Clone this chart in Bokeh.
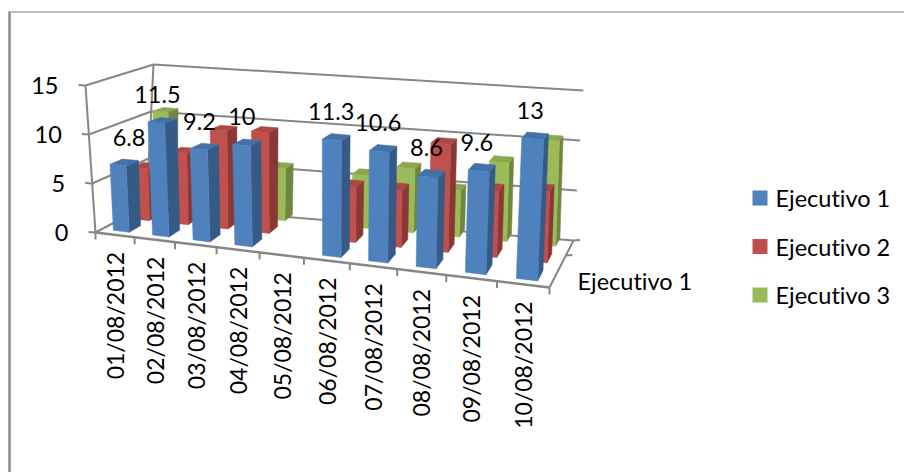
from bokeh.plotting import figure
from bokeh.models import Range1d
from bokeh.core.properties import value
from bokeh.embed import file_html
from bokeh.resources import INLINE
import math

dates = ["01/08/2012", "02/08/2012", "03/08/2012", "04/08/2012", "05/08/2012",
         "06/08/2012", "07/08/2012", "08/08/2012", "09/08/2012", "10/08/2012"]
nan = float("nan")
ejecutivo_1 = [6.8, 11.5, 9.2, 10, nan, 11.3, 10.6, 8.6, 9.6, 13]
ejecutivo_2 = [5.5, 7.5, 10.2, 10.4, nan, 5.6, 5.7, 10.7, 6.5, 6.9]
ejecutivo_3 = [10.7, nan, nan, 5.6, nan, 5.6, 6.7, 4.8, 8.1, 10.7]
value_ticks = [0, 5, 10, 15]
series_names = ["Ejecutivo 1", "Ejecutivo 2", "Ejecutivo 3"]

FONT = value("Lato")
FS = "23.5px"
GREY = "#868686"

# Screen position of the eight corners of the plot box (front/back, left/right, floor/top).
WALL = dict(fl=(95, 232), fr=(549, 287), bl=(146, 205), br=(573, 240),
            flt=(85, 85), frt=(560, 120), blt=(153, 64), brt=(583, 90))
BARS = dict(fl=(95, 232), fr=(550, 288), bl=(160, 197), br=(578, 231),
            flt=(86, 85), frt=(558, 122), blt=(163, 65), brt=(582, 91))
PERSPECTIVE = 1.178


def project(box, u, w, v):
    """Perspective-style mapping of (category position, depth 0-1, value) to the page."""
    f = u / 10
    s = f / (f + PERSPECTIVE * (1 - f)) if f > 0 else 0.0
    t = v / 15
    out = []
    for k in (0, 1):
        floor_front = box["fl"][k] + s * (box["fr"][k] - box["fl"][k])
        floor_back = box["bl"][k] + s * (box["br"][k] - box["bl"][k])
        top_front = box["flt"][k] + s * (box["frt"][k] - box["flt"][k])
        top_back = box["blt"][k] + s * (box["brt"][k] - box["blt"][k])
        floor = floor_front + w * (floor_back - floor_front)
        top = top_front + w * (top_back - top_front)
        out.append(floor + t * (top - floor))
    return out


p = figure(width=904, height=472, output_backend="svg", toolbar_location=None,
           x_range=Range1d(0, 904), y_range=Range1d(472, 0), min_border=0,
           background_fill_color="white", border_fill_color="white",
           styles={"font-variant-ligatures": "none"})
p.axis.visible = False
p.grid.visible = False
p.outline_line_color = None


def seg(a, b, color=GREY, width=2.0):
    p.line([a[0], b[0]], [a[1], b[1]], line_color=color, line_width=width)


# Chart-area frame
seg((9, 472), (9, 11), "#8c8c8c", 2.5)
seg((9, 11.5), (904, 11.5), "#a6a6a6", 1.5)

# Walls: value gridlines on the side and back walls
for tick in value_ticks:
    a = project(WALL, 0, 0, tick)
    b = project(WALL, 0, 1, tick)
    c = project(WALL, 10, 1, tick)
    seg(a, b)
    seg(b, c)
    seg((a[0] - 7, a[1] - 0.5), a)
    p.text([a[0] - 27], [a[1]], text=[str(tick)], text_font=FONT, text_font_size=FS,
           text_color="#000000", text_align="right", text_baseline="middle")
seg(project(WALL, 0, 0, 0), project(WALL, 0, 0, 15))
seg(project(WALL, 0, 1, 0), project(WALL, 0, 1, 15))

# Floor edge on the right and depth-axis ticks
seg(project(WALL, 10, 0, 0), project(WALL, 10, 1, 0))
for w in (0.68, 1):
    q = project(WALL, 10, w, 0)
    seg(q, (q[0] + 6.5, q[1] - 0.5))

# Bars, drawn from the back row forward
ROWS = [(ejecutivo_3, (0.72, 0.86), ("#9BBB59", "#6F8640", "#8AA64E")),
        (ejecutivo_2, (0.42, 0.58), ("#C0504D", "#8A3836", "#AC4744")),
        (ejecutivo_1, (0.10, 0.28), ("#4F81BD", "#355A86", "#4472A8"))]
BAR_W = 0.41

for values, (w0, w1), (front, side, top) in ROWS:
    for i, val in enumerate(values):
        if math.isnan(val):
            continue
        u0, u1 = i + 0.5 - BAR_W / 2, i + 0.5 + BAR_W / 2
        corner = lambda u, w, v: project(BARS, u, w, v)
        faces = [
            ([corner(u1, w0, 0), corner(u1, w1, 0), corner(u1, w1, val), corner(u1, w0, val)], side),
            ([corner(u0, w0, val), corner(u1, w0, val), corner(u1, w1, val), corner(u0, w1, val)], top),
            ([corner(u0, w0, 0), corner(u1, w0, 0), corner(u1, w0, val), corner(u0, w0, val)], front),
        ]
        for pts, color in faces:
            p.patch([q[0] for q in pts], [q[1] for q in pts], fill_color=color,
                    line_color=color, line_width=0.5)

# Front axis on top of the bars, with category ticks and rotated dates
seg(project(WALL, 0, 0, 0), project(WALL, 10, 0, 0), GREY, 2.5)
for i in range(11):
    q = project(WALL, i, 0, 0)
    seg(q, (q[0], q[1] + 7))
for i, d in enumerate(dates):
    q = project(WALL, i + 0.5, 0, 0)
    p.text([q[0]], [q[1] + 17], text=[d], text_font=FONT, text_font_size="23px", text_color="#000000",
           angle=math.pi / 2, text_align="right", text_baseline="middle")

# Value labels for the front row
u_shift = [0.25, 0, 0, 0, 0, 0, 0, 0, 0, 0]
for i, val in enumerate(ejecutivo_1):
    if math.isnan(val):
        continue
    q = project(BARS, i + 0.5 + u_shift[i], 0.19, val)
    p.text([q[0] - 5], [q[1] - 25.5], text=[f"{val:g}"], text_font=FONT, text_font_size=FS,
           text_color="#000000", text_align="center", text_baseline="middle")

# Depth-axis label and legend
p.text([577], [280], text=[series_names[0]], text_font=FONT, text_font_size=FS, text_color="#000000",
       text_align="left", text_baseline="middle")
for name, color, ly in zip(series_names, ["#4F81BD", "#C0504D", "#9BBB59"], [197.5, 246, 294.5]):
    p.rect([759.5], [ly], width=15, height=15, fill_color=color, line_color=None)
    p.text([775], [ly], text=[name], text_font=FONT, text_font_size=FS, text_color="#000000",
           text_align="left", text_baseline="middle")

open("out.html", "w").write(file_html(p, INLINE))
